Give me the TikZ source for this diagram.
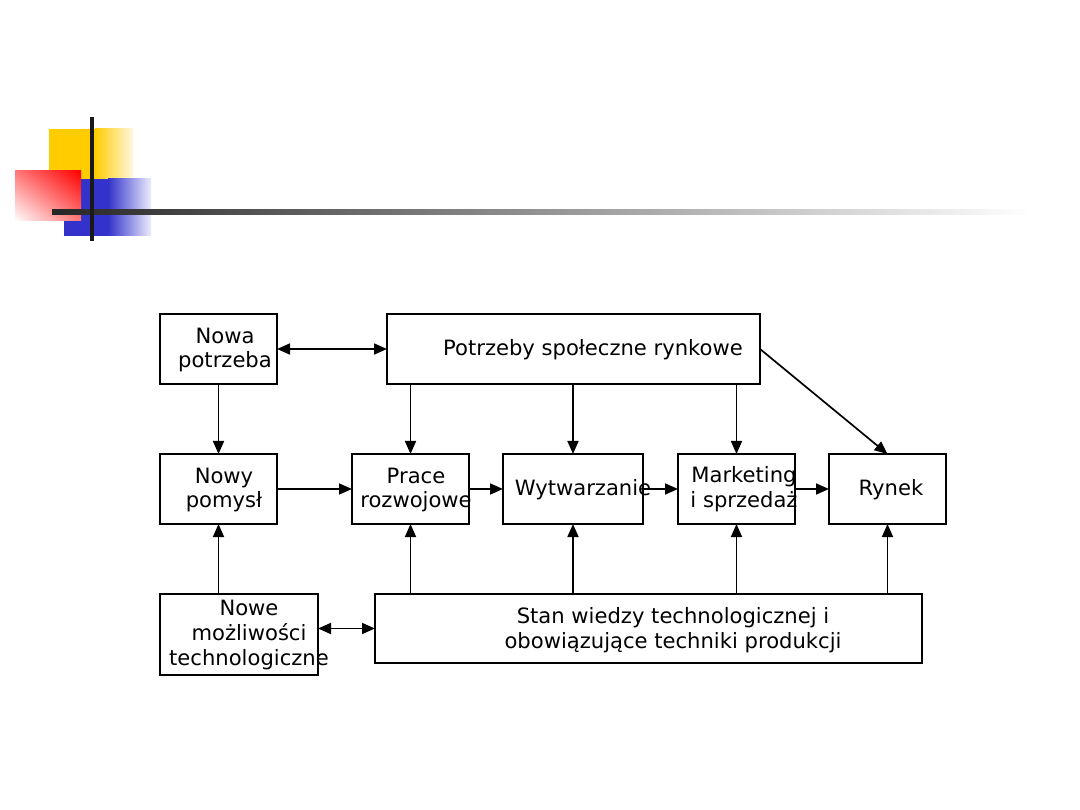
\documentclass[tikz,border=0pt]{standalone}
\usepackage{fontspec}
\setmainfont{DejaVu Sans}
\usetikzlibrary{arrows.meta,shadings}
\definecolor{dyel}{RGB}{255,204,0}
\definecolor{dyelp}{RGB}{255,248,225}
\definecolor{dblu}{RGB}{51,51,204}
\definecolor{dblup}{RGB}{236,236,252}
\definecolor{dredm}{RGB}{255,120,120}
\begin{document}
\begin{tikzpicture}[x=1pt,y=-1pt,
  bx/.style={draw=black, line width=1.5pt, anchor=north west, inner sep=0pt, outer sep=0pt},
  txt/.style={align=center, inner sep=0pt, font=\fontsize{21.1}{24.8}\selectfont},
  arr/.style={line width=1.7pt, -{Triangle[length=13pt,width=11pt]}},
  darr/.style={line width=1.7pt, {Triangle[length=13pt,width=11pt]}-{Triangle[length=13pt,width=11pt]}}]
\fill[white] (0,0) rectangle (1080,810);
\useasboundingbox (0,0) rectangle (1080,810);
% decoration
\fill[dyel] (49,129) rectangle (96,185);
\shade[left color=dyel, right color=dyelp] (95,129) rectangle (133,185);
\fill[dblu] (64,179) rectangle (109,236);
\shade[left color=dblu, right color=dblup] (108,179) rectangle (151,236);
\shade[upper right=red, lower left=white, upper left=dredm, lower right=dredm] (15,171) rectangle (81,221);
\shade[left color=black!85, middle color=black!50, right color=white] (52,210) rectangle (1030,215);
\fill[black!90] (90,117) rectangle (94,241);
% boxes
\node[bx, minimum width=117, minimum height=70] (np) at (160,314) {};
\node[bx, minimum width=373, minimum height=70] (ps) at (387,314) {};
\node[bx, minimum width=117, minimum height=70] (ny) at (160,454) {};
\node[bx, minimum width=117, minimum height=70] (pr) at (352,454) {};
\node[bx, minimum width=140, minimum height=70] (wy) at (503,454) {};
\node[bx, minimum width=117, minimum height=70] (ma) at (678,454) {};
\node[bx, minimum width=117, minimum height=70] (ry) at (829,454) {};
\node[bx, minimum width=158, minimum height=81] (nm) at (160,594) {};
\node[bx, minimum width=547, minimum height=69] (sw) at (375,594) {};
% texts
\node[txt] (tnp) at (225,350) {Nowa\\potrzeba};
\node[txt] (tps) at (593,350) {Potrzeby społeczne rynkowe};
\node[txt] (tny) at (224,490) {Nowy\\pomysł};
\node[txt] (tpr) at (416,490) {Prace\\rozwojowe};
\node[txt] (twy) at (583,490) {Wytwarzanie};
\node[txt] (tma) at (744,489) {Marketing\\i sprzedaż};
\node[txt] (try) at (891,490) {Rynek};
\node[txt] (tnm) at (249,635) {Nowe\\możliwości\\technologiczne};
\node[txt] (tsw) at (673,630) {Stan wiedzy technologicznej i\\obowiązujące techniki produkcji};
% connectors
\draw[darr] (np.east) -- (ps.west);
\draw[arr] (np.south) -- (ny.north);
\draw[arr] (ps.south -| pr.north) -- (pr.north);
\draw[arr] (ps.south -| wy.north) -- (wy.north);
\draw[arr] (ps.south -| ma.north) -- (ma.north);
\draw[arr] (ps.east) -- (ry.north);
\draw[arr] (ny.east) -- (pr.west);
\draw[arr] (pr.east) -- (wy.west);
\draw[arr] (wy.east) -- (ma.west);
\draw[arr] (ma.east) -- (ry.west);
\draw[arr] (nm.north -| ny.south) -- (ny.south);
\draw[arr] (sw.north -| pr.south) -- (pr.south);
\draw[arr] (sw.north -| wy.south) -- (wy.south);
\draw[arr] (sw.north -| ma.south) -- (ma.south);
\draw[arr] (sw.north -| ry.south) -- (ry.south);
\draw[darr] (nm.east |- sw.west) -- (sw.west);
\end{tikzpicture}
\end{document}
